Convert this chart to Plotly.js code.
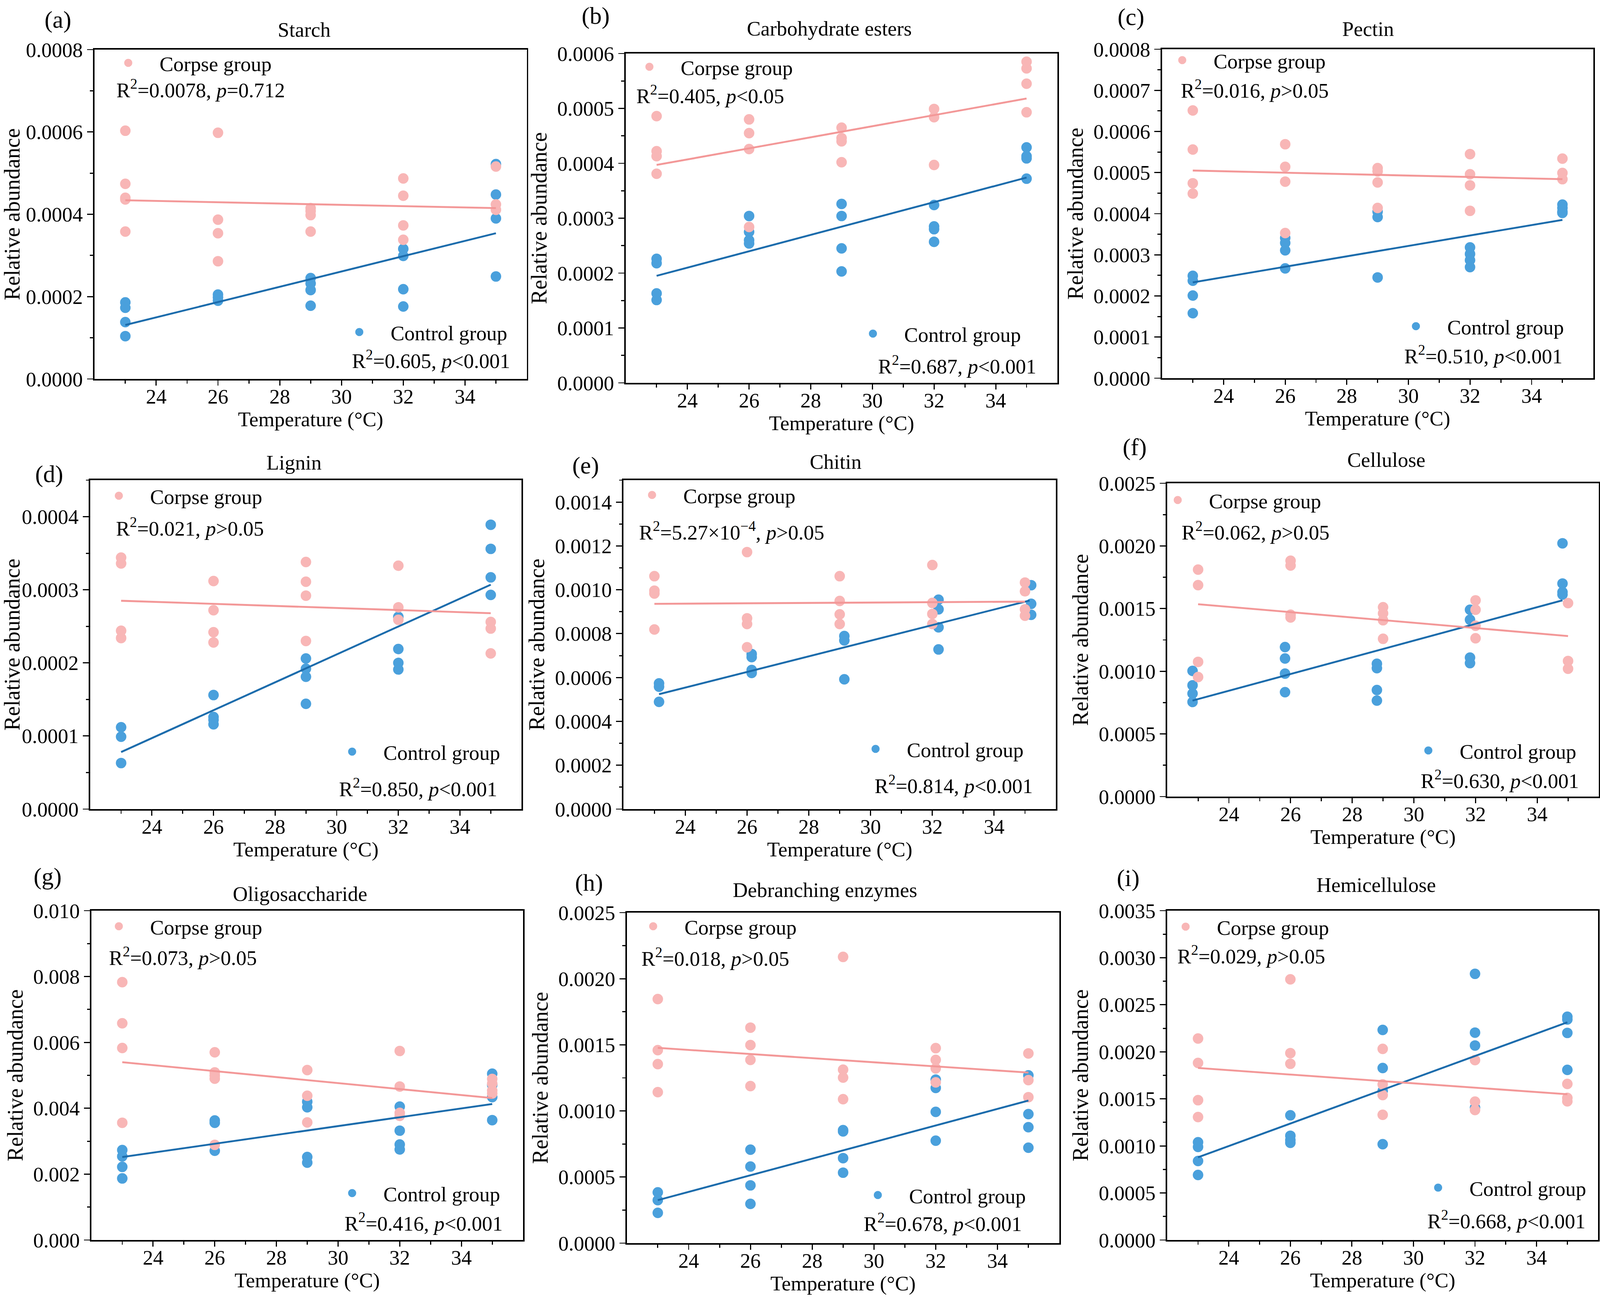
<!DOCTYPE html>
<html>
<head>
<meta charset="utf-8">
<script src="https://cdn.plot.ly/plotly-3.0.1.min.js"></script>
<style>
html,body{margin:0;padding:0;background:#fff;overflow:hidden;}
#plot{width:100vw;height:100vh;}
</style>
</head>
<body>
<div id="plot"></div>
<script>
// ---------------- DATA ----------------
const temps = [23, 26, 29, 32, 35];
const fitTemps = [23, 35];
const xTicks = [24, 26, 28, 30, 32, 34];
const xMinorTicks = [23, 25, 27, 29, 31, 33, 35];

const starchCorpse = [[0.000603,0.000474,0.000440,0.000436,0.000358],[0.000598,0.000387,0.000354,0.000286],[0.000415,0.000408,0.000398,0.000358],[0.000487,0.000445,0.000373,0.000338],[0.000516,0.000424,0.000411]];
const starchControl = [[0.000186,0.000173,0.000138,0.000104],[0.000205,0.000198,0.000190],[0.000245,0.000232,0.000216,0.000178],[0.000316,0.000299,0.000218,0.000176],[0.000522,0.000448,0.000390,0.000249]];
const starchFitCorpse = [0.000434,0.000415];
const starchFitControl = [0.000131,0.000354];

const esterCorpse = [[0.000486,0.000422,0.000413,0.000381],[0.000480,0.000455,0.000426,0.000284],[0.000465,0.000446,0.000440,0.000402],[0.000499,0.000484,0.000397],[0.000585,0.000573,0.000545,0.000493]];
const esterControl = [[0.000226,0.000218,0.000163,0.000151],[0.000304,0.000275,0.000260,0.000254],[0.000326,0.000304,0.000245,0.000203],[0.000324,0.000285,0.000280,0.000257],[0.000429,0.000413,0.000409,0.000372]];
const esterFitCorpse = [0.000397,0.000518];
const esterFitControl = [0.000195,0.000374];

const pectinCorpse = [[0.000651,0.000556,0.000474,0.000449],[0.000569,0.000514,0.000478,0.000353],[0.000511,0.000503,0.000476,0.000414],[0.000545,0.000496,0.000469,0.000407],[0.000534,0.000499,0.000484]];
const pectinControl = [[0.000249,0.000237,0.000201,0.000158],[0.000341,0.000329,0.000311,0.000267],[0.000405,0.000392,0.000245],[0.000318,0.000302,0.000287,0.000270],[0.000422,0.000414,0.000405,0.000402]];
const pectinFitCorpse = [0.000505,0.000484];
const pectinFitControl = [0.000233,0.000385];

const ligninCorpse = [[0.000344,0.000336,0.000244,0.000234],[0.000312,0.000272,0.000242,0.000228],[0.000338,0.000311,0.000292,0.000230],[0.000333,0.000276,0.000259],[0.000256,0.000247,0.000213]];
const ligninControl = [[0.000112,0.000099,0.000063],[0.000156,0.000126,0.000122,0.000116],[0.000206,0.000192,0.000181,0.000144],[0.000263,0.000219,0.000200,0.000191],[0.000389,0.000356,0.000317,0.000293]];
const ligninFitCorpse = [0.000285,0.000268];
const ligninFitControl = [0.000078,0.000307];

const chitinControlTemps = [23.15, 26.15, 29.15, 32.2, 35.2];
const chitinFitControlTemps = [23.15, 35.15];
const chitinCorpse = [[0.001062,0.000996,0.000983,0.000819],[0.001172,0.000870,0.000844,0.000738],[0.001062,0.000949,0.000888,0.000844],[0.001113,0.000940,0.000890,0.000844],[0.001033,0.000993,0.000911,0.000882]];
const chitinControl = [[0.000573,0.000558,0.000489],[0.000707,0.000693,0.000634,0.000621],[0.000789,0.000769,0.000592],[0.000955,0.000911,0.000829,0.000728],[0.001021,0.000936,0.000886]];
const chitinFitCorpse = [0.000936,0.000946];
const chitinFitControl = [0.000524,0.000951];

const celluloseControlTemps = [22.82, 25.82, 28.8, 31.82, 34.82];
const celluloseFitControlTemps = [22.82, 34.82];
const celluloseCorpse = [[0.001811,0.001687,0.001075,0.000954],[0.001882,0.001844,0.001451,0.001429],[0.001511,0.001462,0.001407,0.001259],[0.001566,0.001491,0.001363,0.001263],[0.001544,0.001082,0.001020]];
const celluloseControl = [[0.001003,0.000888,0.000822,0.000755],[0.001193,0.001102,0.000981,0.000833],[0.001060,0.001025,0.000850,0.000766],[0.001491,0.001411,0.001109,0.001065],[0.002021,0.001700,0.001632,0.001612]];
const celluloseFitCorpse = [0.001535,0.001281];
const celluloseFitControl = [0.000766,0.001566];

const oligoCorpse = [[0.00783,0.00658,0.00583,0.00356],[0.00570,0.00509,0.00499,0.00490,0.00289],[0.00516,0.00438,0.00357],[0.00574,0.00466,0.00386,0.00377],[0.00489,0.00475,0.00454,0.00445]];
const oligoControl = [[0.00273,0.00254,0.00222,0.00187],[0.00363,0.00356,0.00271],[0.00420,0.00403,0.00252,0.00235],[0.00405,0.00332,0.00290,0.00275],[0.00505,0.00471,0.00434,0.00364]];
const oligoFitCorpse = [0.00540,0.00431];
const oligoFitControl = [0.00252,0.00413];

const debranchCorpse = [[0.001846,0.001460,0.001354,0.001142],[0.001630,0.001498,0.001386,0.001188],[0.002165,0.001312,0.001252,0.001089],[0.001475,0.001386,0.001322,0.001216],[0.001435,0.001233,0.001104]];
const debranchControl = [[0.000384,0.000325,0.000229],[0.000707,0.000579,0.000437,0.000297],[0.000855,0.000845,0.000643,0.000533],[0.001237,0.001174,0.000993,0.000775],[0.001269,0.000976,0.000877,0.000722]];
const debranchFitCorpse = [0.001477,0.001290];
const debranchFitControl = [0.000325,0.001078];

const hemiCorpse = [[0.002141,0.001882,0.001486,0.001307],[0.002770,0.001986,0.001873],[0.002031,0.001653,0.001540,0.001331],[0.001912,0.001471,0.001382],[0.001659,0.001510,0.001474]];
const hemiControl = [[0.001039,0.000989,0.000840,0.000691],[0.001325,0.001108,0.001063,0.001033],[0.002233,0.001828,0.001584,0.001018],[0.002829,0.002204,0.002067,0.001406],[0.002373,0.002344,0.002201,0.001808]];
const hemiFitCorpse = [0.001828,0.001549];
const hemiFitControl = [0.000879,0.002314];

const panelTitles = ['Starch','Carbohydrate esters','Pectin','Lignin','Chitin','Cellulose','Oligosaccharide','Debranching enzymes','Hemicellulose'];
const panelLetters = ['(a)','(b)','(c)','(d)','(e)','(f)','(g)','(h)','(i)'];
const corpseStats = ['R<sup>2</sup>=0.0078, <i>p</i>=0.712','R<sup>2</sup>=0.405, <i>p</i><0.05','R<sup>2</sup>=0.016, <i>p</i>>0.05','R<sup>2</sup>=0.021, <i>p</i>>0.05','R<sup>2</sup>=5.27×10<sup>−4</sup>, <i>p</i>>0.05','R<sup>2</sup>=0.062, <i>p</i>>0.05','R<sup>2</sup>=0.073, <i>p</i>>0.05','R<sup>2</sup>=0.018, <i>p</i>>0.05','R<sup>2</sup>=0.029, <i>p</i>>0.05'];
const controlStats = ['R<sup>2</sup>=0.605, <i>p</i><0.001','R<sup>2</sup>=0.687, <i>p</i><0.001','R<sup>2</sup>=0.510, <i>p</i><0.001','R<sup>2</sup>=0.850, <i>p</i><0.001','R<sup>2</sup>=0.814, <i>p</i><0.001','R<sup>2</sup>=0.630, <i>p</i><0.001','R<sup>2</sup>=0.416, <i>p</i><0.001','R<sup>2</sup>=0.678, <i>p</i><0.001','R<sup>2</sup>=0.668, <i>p</i><0.001'];
const yMax = [0.0008, 0.0006, 0.0008, 0.00045, 0.0015, 0.0025, 0.010, 0.0025, 0.0035];
const yStep = [0.0002, 0.0001, 0.0001, 0.0001, 0.0002, 0.0005, 0.002, 0.0005, 0.0005];
const yFormat = ['.4f','.4f','.4f','.4f','.4f','.4f','.3f','.4f','.4f'];

// ---------------- LAYOUT / STYLE ----------------
const W = 4252, H = 3325;                       // reference pixel space
const VW = window.innerWidth || W, VH = window.innerHeight || H;
const S = Math.min(VW / W, VH / H);             // size factor for the actual viewport
const FONT = 'Liberation Serif, Times New Roman, serif';
const FS = 55 * S;
const PINK = 'rgb(248,182,182)', PINK_LINE = 'rgb(243,152,152)';
const BLUE = 'rgb(74,160,220)', BLUE_LINE = 'rgb(28,108,172)';
const px = v => v / W, py = v => 1 - v / H;

// plot box [left,right,top,bottom], letter, title, corpse legend text start, corpse stats left, control legend text start, control stats right
const geo = [
  {box:[251,1400,127,970], letter:[154,50], title:[808,76], cl:[424,161], cs:[307,227], kl:[1038,850], ks:[1358,920]},
  {box:[1663,2810,137,980], letter:[1583,40], title:[2204,73], cl:[1809,171], cs:[1689,242], kl:[2403,854], ks:[2756,934]},
  {box:[3088,4234,126,968], letter:[3005,43], title:[3635,74], cl:[3225,154], cs:[3136,228], kl:[3846,835], ks:[4154,908]},
  {box:[240,1386,1229,2071], letter:[131,1213], title:[781,1184], cl:[399,1269], cs:[306,1349], kl:[1019,1924], ks:[1324,2016]},
  {box:[1657,2806,1229,2071], letter:[1556,1191], title:[2220,1182], cl:[1816,1267], cs:[1696,1359], kl:[2410,1917], ks:[2747,2008]},
  {box:[3102,4249,1237,2039], letter:[3016,1144], title:[3684,1177], cl:[3213,1280], cs:[3138,1359], kl:[3879,1921], ks:[4198,1995]},
  {box:[243,1390,2331,3174], letter:[127,2243], title:[797,2288], cl:[399,2371], cs:[288,2448], kl:[1019,3054], ks:[1338,3128]},
  {box:[1666,2815,2336,3182], letter:[1565,2259], title:[2192,2278], cl:[1819,2371], cs:[1702,2450], kl:[2416,3059], ks:[2718,3129]},
  {box:[3102,4247,2331,3174], letter:[2998,2247], title:[3657,2265], cl:[3234,2372], cs:[3127,2444], kl:[3905,3040], ks:[4216,3122]}
];

const series = [
  {corpse:starchCorpse, control:starchControl, fc:starchFitCorpse, fk:starchFitControl, kt:temps, fkt:fitTemps},
  {corpse:esterCorpse, control:esterControl, fc:esterFitCorpse, fk:esterFitControl, kt:temps, fkt:fitTemps},
  {corpse:pectinCorpse, control:pectinControl, fc:pectinFitCorpse, fk:pectinFitControl, kt:temps, fkt:fitTemps},
  {corpse:ligninCorpse, control:ligninControl, fc:ligninFitCorpse, fk:ligninFitControl, kt:temps, fkt:fitTemps},
  {corpse:chitinCorpse, control:chitinControl, fc:chitinFitCorpse, fk:chitinFitControl, kt:chitinControlTemps, fkt:chitinFitControlTemps},
  {corpse:celluloseCorpse, control:celluloseControl, fc:celluloseFitCorpse, fk:celluloseFitControl, kt:celluloseControlTemps, fkt:celluloseFitControlTemps},
  {corpse:oligoCorpse, control:oligoControl, fc:oligoFitCorpse, fk:oligoFitControl, kt:temps, fkt:fitTemps},
  {corpse:debranchCorpse, control:debranchControl, fc:debranchFitCorpse, fk:debranchFitControl, kt:temps, fkt:fitTemps},
  {corpse:hemiCorpse, control:hemiControl, fc:hemiFitCorpse, fk:hemiFitControl, kt:temps, fkt:fitTemps}
];

function flatten(xs, groups){
  const x = [], y = [];
  groups.forEach((g,i) => g.forEach(v => { x.push(xs[i]); y.push(v); }));
  return {x, y};
}

const data = [];
const layout = {
  width: VW, height: VH,
  margin: {l:0, r:0, t:0, b:0},
  paper_bgcolor: '#fff', plot_bgcolor: '#fff',
  font: {family: FONT, size: FS, color: '#000'},
  showlegend: true,
  annotations: []
};

const ITEMW = 156 * S;
const TEXT_OFF = ITEMW + 10;                    // legend text offset from legend left (viewport px)
const MK = 23 * S, MKL = 5 * S;
const legX = t => (t * VW / W - TEXT_OFF) / VW;

series.forEach((s, i) => {
  const n = i + 1;
  const xa = n === 1 ? 'x' : 'x' + n, ya = n === 1 ? 'y' : 'y' + n;
  const g = geo[i];
  const legC = 'legend' + (2*n - 1 === 1 ? '' : (2*n - 1));
  const legK = 'legend' + (2*n);
  const c = flatten(temps, s.corpse), k = flatten(s.kt, s.control);
  data.push({type:'scatter', mode:'markers', x:k.x, y:k.y, xaxis:xa, yaxis:ya, name:'Control group', legend:legK,
             marker:{size:MK, color:BLUE, line:{width:MKL, color:BLUE}}, cliponaxis:false});
  data.push({type:'scatter', mode:'markers', x:c.x, y:c.y, xaxis:xa, yaxis:ya, name:'Corpse group', legend:legC,
             marker:{size:MK, color:PINK, line:{width:MKL, color:PINK}}, cliponaxis:false});
  data.push({type:'scatter', mode:'lines', x:s.fkt, y:s.fk, xaxis:xa, yaxis:ya, showlegend:false, hoverinfo:'skip',
             line:{color:BLUE_LINE, width:5*S}});
  data.push({type:'scatter', mode:'lines', x:fitTemps, y:s.fc, xaxis:xa, yaxis:ya, showlegend:false, hoverinfo:'skip',
             line:{color:PINK_LINE, width:5*S}});

  const axFont = {family: FONT, size: FS, color: '#000'};
  const yTitleFont = {family: FONT, size: 56, color: '#000'};
  layout['xaxis' + (n === 1 ? '' : n)] = {
    domain:[px(g.box[0]), px(g.box[1])], anchor: ya, range:[22, 36],
    tickmode:'array', tickvals:xTicks, ticks:'outside', ticklen:14*S, tickwidth:3*S, tickcolor:'#000',
    minor:{tickmode:'array', tickvals:xMinorTicks, ticks:'outside', ticklen:8*S, tickwidth:3*S, tickcolor:'#000'},
    showline:true, linewidth:4*S, linecolor:'#000', mirror:true, showgrid:false, zeroline:false,
    tickfont: axFont, ticklabelstandoff: -18, title:{text:'Temperature (°C)', font:axFont, standoff:12*S}
  };
  layout['yaxis' + (n === 1 ? '' : n)] = {
    domain:[py(g.box[3]), py(g.box[2])], anchor: xa, range:[0, yMax[i]],
    tick0:0, dtick:yStep[i], tickformat:yFormat[i], ticks:'outside', ticklen:16*S, tickwidth:3*S, tickcolor:'#000',
    minor:{dtick:yStep[i]/2, ticks:'outside', ticklen:8*S, tickwidth:3*S, tickcolor:'#000'},
    showline:true, linewidth:4*S, linecolor:'#000', mirror:true, showgrid:false, zeroline:false,
    tickfont: axFont, ticklabelstandoff: -5*S, title:{text:'Relative abundance', font:yTitleFont, standoff:10*S}
  };
  const legBase = {xref:'paper', yref:'paper', xanchor:'left', yanchor:'middle', bgcolor:'rgba(0,0,0,0)',
                   borderwidth:0, itemwidth:ITEMW, font:{family:FONT, size:FS, color:'#000'}};
  layout[legC] = Object.assign({}, legBase, {x: legX(g.cl[0]), y: py(g.cl[1])});
  layout[legK] = Object.assign({}, legBase, {x: legX(g.kl[0]), y: py(g.kl[1])});

  layout.annotations.push(
    {text: panelLetters[i], xref:'paper', yref:'paper', x:px(g.letter[0]), y:py(g.letter[1]), xanchor:'center', yanchor:'middle', showarrow:false, font:{family:FONT, size:64*S, color:'#000'}},
    {text: panelTitles[i], xref:'paper', yref:'paper', x:px(g.title[0]), y:py(g.title[1]), xanchor:'center', yanchor:'middle', showarrow:false, font:{family:FONT, size:FS, color:'#000'}},
    {text: corpseStats[i], xref:'paper', yref:'paper', x:px(g.cs[0]), y:py(g.cs[1]), xanchor:'left', yanchor:'middle', showarrow:false, font:{family:FONT, size:FS, color:'#000'}},
    {text: controlStats[i], xref:'paper', yref:'paper', x:px(g.ks[0]), y:py(g.ks[1]), xanchor:'right', yanchor:'middle', showarrow:false, font:{family:FONT, size:FS, color:'#000'}}
  );
});

Plotly.newPlot('plot', data, layout, {staticPlot:true, displayModeBar:false});
</script>
</body>
</html>
